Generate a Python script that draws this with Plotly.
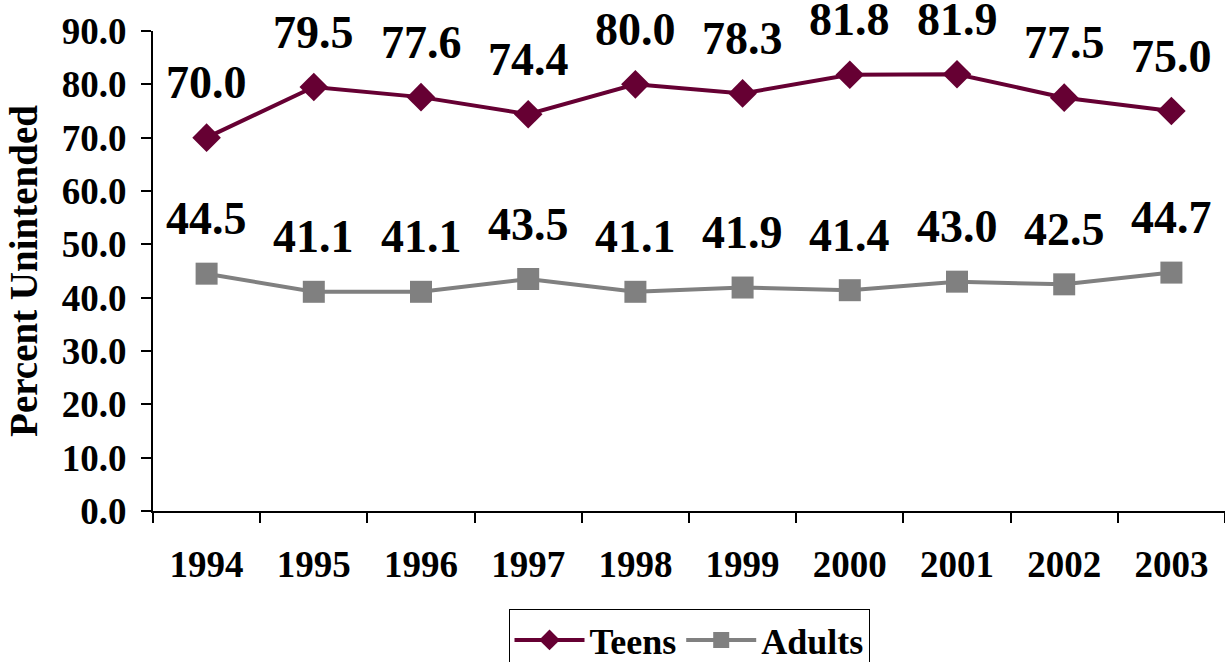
import plotly.graph_objects as go

# Data
YEARS = ["1994", "1995", "1996", "1997", "1998", "1999", "2000", "2001", "2002", "2003"]
TEENS = [70.0, 79.5, 77.6, 74.4, 80.0, 78.3, 81.8, 81.9, 77.5, 75.0]
ADULTS = [44.5, 41.1, 41.1, 43.5, 41.1, 41.9, 41.4, 43.0, 42.5, 44.7]

TEEN_COLOR = "#660033"
ADULT_COLOR = "#808080"
FONT = "Liberation Serif"

fig = go.Figure()

fig.add_trace(go.Scatter(
    x=YEARS, y=TEENS, name="Teens", mode="lines+markers",
    line=dict(color=TEEN_COLOR, width=4),
    marker=dict(symbol="diamond", size=22, color=TEEN_COLOR),
))
fig.add_trace(go.Scatter(
    x=YEARS, y=ADULTS, name="Adults", mode="lines+markers",
    line=dict(color=ADULT_COLOR, width=4),
    marker=dict(symbol="square", size=22, color=ADULT_COLOR),
))

# value labels above each point (category index used as x, since
# numeric-looking category strings are read as positions by annotations)
for series in (TEENS, ADULTS):
    for i, v in enumerate(series):
        fig.add_annotation(
            x=i, y=v, text=f"<b>{v:.1f}</b>", showarrow=False,
            yshift=55, font=dict(family=FONT, size=46, color="black"),
        )

fig.update_xaxes(
    type="category", tickson="boundaries", ticks="outside", ticklen=10,
    tickwidth=2, tickcolor="black", showline=True, linecolor="black",
    linewidth=2, showgrid=False, ticklabelstandoff=20, automargin=False,
    tickfont=dict(family=FONT, size=37, color="black", weight="bold"),
    range=[-0.5, 9.5],
)
fig.update_yaxes(
    range=[0, 90], dtick=10, tickformat=".1f", ticks="outside", ticklen=10,
    tickwidth=2, tickcolor="black", showline=True, linecolor="black",
    linewidth=2, showgrid=False, zeroline=False, automargin=False,
    ticklabelstandoff=7,
    tickfont=dict(family=FONT, size=37, color="black", weight="bold"),
    title=dict(text="<b>Percent Unintended</b>", standoff=12,
               font=dict(family=FONT, size=39, color="black")),
)

fig.update_layout(
    width=1225, height=662,
    margin=dict(l=153, r=0, t=31, b=151),
    plot_bgcolor="white", paper_bgcolor="white",
    font=dict(family=FONT, color="black"),
    legend=dict(
        orientation="h", x=0.5, xanchor="center",
        yref="container", y=53 / 662, yanchor="top",
        bordercolor="black", borderwidth=1, itemwidth=70,
        font=dict(family=FONT, size=36, color="black", weight="bold"),
    ),
)

# drop the page's default body margin so the figure sits at the window origin
fig.write_html(
    "out.html",
    config={"displayModeBar": False},
    post_script="document.body.style.margin='0';",
)
